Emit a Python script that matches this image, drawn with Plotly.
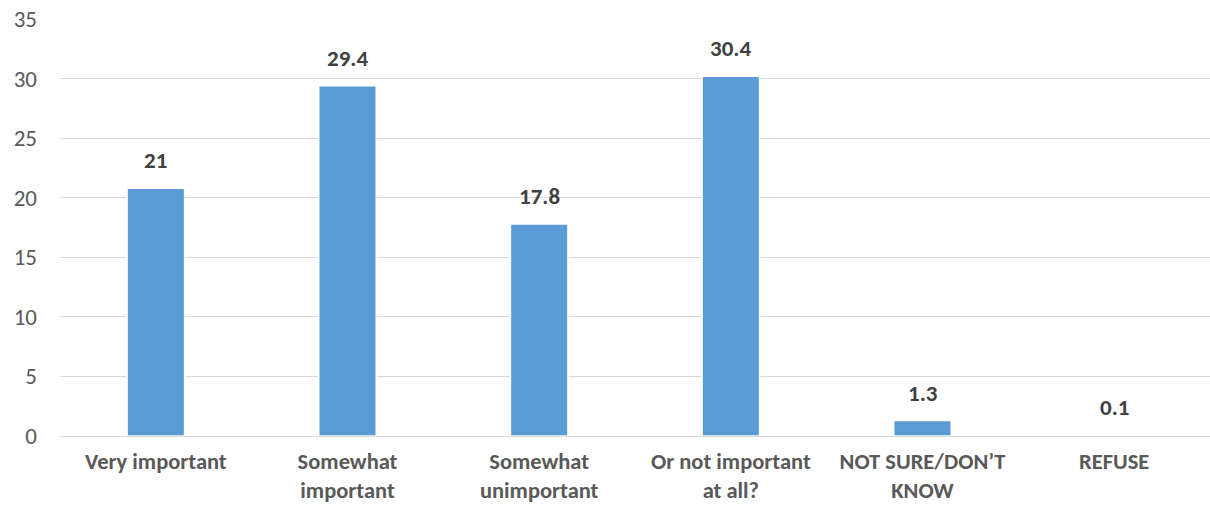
import plotly.graph_objects as go

categories = ["Very important", "Somewhat<br>important", "Somewhat<br>unimportant",
              "Or not important<br>at all?", "NOT SURE/DON’T<br>KNOW", "REFUSE"]
values = [21, 29.4, 17.8, 30.4, 1.3, 0.1]
bar_heights = [20.8, 29.4, 17.8, 30.2, 1.3, 0.1]
labels = ["21", "29.4", "17.8", "30.4", "1.3", "0.1"]
y_ticks = [0, 5, 10, 15, 20, 25, 30, 35]

FONT = "Carlito, Lato, 'Open Sans', sans-serif"

fig = go.Figure()
fig.add_trace(go.Bar(
    x=categories, y=bar_heights,
    marker=dict(color="#5B9BD5", line=dict(color="white", width=1.5)),
    hoverinfo="skip",
))

for c, h, t in zip(categories, bar_heights, labels):
    fig.add_annotation(x=c, y=h, text=f"<b>{t}</b>", showarrow=False,
                       yanchor="bottom", yshift=12,
                       font=dict(family=FONT, size=23, color="#404040"))

fig.update_layout(
    width=1210, height=508,
    margin=dict(l=60, r=0, t=19, b=72, autoexpand=False),
    paper_bgcolor="white", plot_bgcolor="white",
    bargap=0.70,
    showlegend=False,
    font=dict(family=FONT, size=23, color="#595959"),
    xaxis=dict(
        tickfont=dict(family=FONT, size=22.5, color="#595959", weight="bold"),
        showline=False, showgrid=False, ticks="", ticklabelstandoff=9,
        automargin=False,
    ),
    yaxis=dict(
        range=[0, 35], tickvals=y_ticks,
        tickfont=dict(family=FONT, size=23, color="#595959"),
        showgrid=True, gridcolor="#D9D9D9", gridwidth=1.3,
        zeroline=True, zerolinecolor="#D9D9D9", zerolinewidth=1.3,
        ticks="", ticklabelstandoff=22, automargin=False,
    ),
)

fig.write_html("out.html", config={"displayModeBar": False},
               post_script="document.body.style.margin='0';")
